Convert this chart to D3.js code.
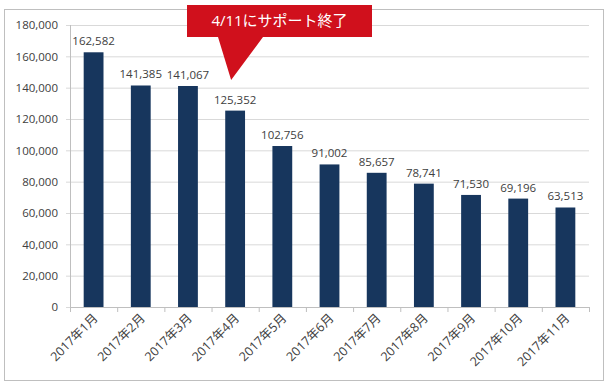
<!DOCTYPE html>
<html>
<head>
<meta charset="utf-8">
<script src="https://cdn.jsdelivr.net/npm/d3@7/dist/d3.min.js"></script>
<style>
  body { margin: 0; background: #fff; }
  svg text { font-family: "Open Sans", "Noto Sans CJK JP", sans-serif; }
</style>
</head>
<body>
<div id="chart"></div>
<script>
// Monthly values.
var months = ['2017年1月', '2017年2月', '2017年3月', '2017年4月', '2017年5月', '2017年6月',
  '2017年7月', '2017年8月', '2017年9月', '2017年10月', '2017年11月'];
var counts = [162582, 141385, 141067, 125352, 102756, 91002, 85657, 78741, 71530, 69196, 63513];
var yTicks = [0, 20000, 40000, 60000, 80000, 100000, 120000, 140000, 160000, 180000];
var calloutText = '4/11にサポート終了';
var calloutMonth = '2017年4月';

var W = 610, H = 388;
var plot = { left: 70, right: 589, top: 25, bottom: 307 };

var svg = d3.select('#chart').append('svg')
  .attr('width', W)
  .attr('height', H);

// Outer chart frame.
svg.append('rect')
  .attr('x', 4.5).attr('y', 9.5)
  .attr('width', 599).attr('height', 371)
  .attr('fill', '#fff')
  .attr('stroke', '#bfbfbf');

var x = d3.scaleBand()
  .domain(months)
  .range([plot.left, plot.right])
  .paddingInner(0.58)
  .paddingOuter(0.29);

var y = d3.scaleLinear()
  .domain([0, 180000])
  .range([plot.bottom, plot.top]);

// Gridlines and y axis labels.
var yAxis = d3.axisLeft(y)
  .tickValues(yTicks)
  .tickSize(-(plot.right - plot.left))
  .tickPadding(12)
  .tickFormat(d3.format(','));

var gy = svg.append('g')
  .attr('transform', 'translate(' + plot.left + ',0)')
  .call(yAxis);
gy.select('.domain').remove();
gy.selectAll('.tick line')
  .attr('stroke', '#d9d9d9')
  .attr('x1', -4);
gy.selectAll('.tick text')
  .attr('fill', '#404040')
  .style('font-size', '11.5px');

// Vertical axis line.
svg.append('line')
  .attr('x1', plot.left + 0.5).attr('x2', plot.left + 0.5)
  .attr('y1', plot.top).attr('y2', plot.bottom)
  .attr('stroke', '#bfbfbf');

// Bars.
svg.append('g').selectAll('rect')
  .data(counts)
  .join('rect')
  .attr('x', function(d, i) { return x(months[i]); })
  .attr('y', function(d) { return y(d); })
  .attr('width', x.bandwidth())
  .attr('height', function(d) { return y(0) - y(d); })
  .attr('fill', '#17365d');

// Value labels.
svg.append('g').selectAll('text')
  .data(counts)
  .join('text')
  .attr('x', function(d, i) { return x(months[i]) + x.bandwidth() / 2; })
  .attr('y', function(d) { return y(d) - 7; })
  .attr('text-anchor', 'middle')
  .attr('fill', '#404040')
  .style('font-size', '11.5px')
  .text(function(d) { return d3.format(',')(d); });

// Horizontal axis with ticks between categories.
svg.append('line')
  .attr('x1', plot.left).attr('x2', plot.right)
  .attr('y1', plot.bottom + 0.5).attr('y2', plot.bottom + 0.5)
  .attr('stroke', '#bfbfbf');

var step = x.step();
svg.append('g').selectAll('line')
  .data(d3.range(months.length + 1))
  .join('line')
  .attr('x1', function(i) { return plot.left + i * step + 0.5; })
  .attr('x2', function(i) { return plot.left + i * step + 0.5; })
  .attr('y1', plot.bottom)
  .attr('y2', plot.bottom + 5)
  .attr('stroke', '#bfbfbf');

svg.append('g').selectAll('text')
  .data(months)
  .join('text')
  .attr('transform', function(d) {
    var cx = x(d) + x.bandwidth() / 2 + 5;
    return 'translate(' + cx + ',' + (plot.bottom + 12) + ') rotate(-45)';
  })
  .attr('text-anchor', 'end')
  .attr('fill', '#404040')
  .style('font-size', '12.5px')
  .text(function(d) { return d; });

// Red callout pointing at April.
var tipX = x(calloutMonth) + x.bandwidth() / 2 - 4;
var box = { x: 187, y: 5, w: 185, h: 32 };
svg.append('path')
  .attr('d', 'M' + box.x + ',' + box.y +
    'H' + (box.x + box.w) +
    'V' + (box.y + box.h) +
    'H' + 263 +
    'L' + tipX + ',' + 80 +
    'L' + 218 + ',' + (box.y + box.h) +
    'H' + box.x + 'Z')
  .attr('fill', '#d0101c');

svg.append('text')
  .attr('x', box.x + box.w / 2)
  .attr('y', box.y + 21)
  .attr('text-anchor', 'middle')
  .attr('fill', '#fff')
  .style('font-size', '15px')
  .text(calloutText);
</script>
</body>
</html>
